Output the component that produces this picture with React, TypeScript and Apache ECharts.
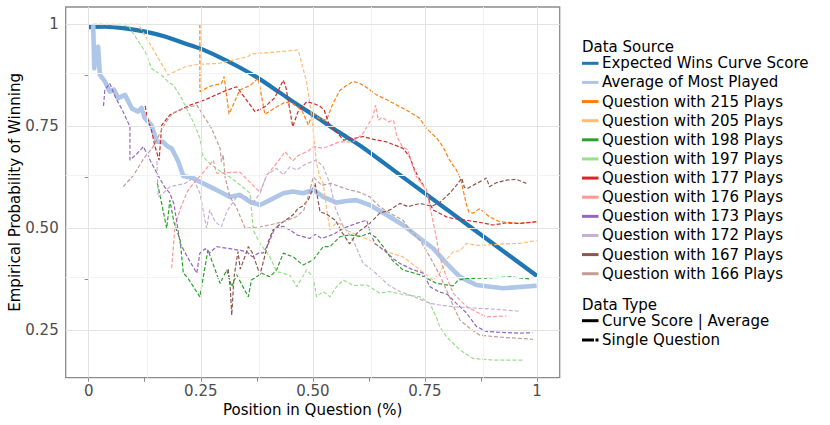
import React, { useEffect, useRef } from "react";
import * as echarts from "echarts";

const FONT = "DejaVu Sans";

const xTickValues = [0, 0.125, 0.25, 0.375, 0.5, 0.625, 0.75, 0.875, 1];
const xLabelValues = [0, 0.25, 0.5, 0.75, 1];
const yTickValues = [0.25, 0.375, 0.5, 0.625, 0.75, 0.875, 1];
const yLabelValues = [0.25, 0.5, 0.75, 1];
const majorX = [0, 0.25, 0.5, 0.75, 1];
const minorX = [0.125, 0.375, 0.625, 0.875];
const majorY = [0.25, 0.5, 0.75, 1];
const minorY = [0.375, 0.625, 0.875];

const expectedCurve = [
  [0, 0.993], [0.036, 0.994], [0.081, 0.99], [0.126, 0.982], [0.17, 0.97],
  [0.215, 0.953], [0.248, 0.941], [0.289, 0.921], [0.334, 0.896], [0.378, 0.868],
  [0.423, 0.835], [0.467, 0.802], [0.512, 0.77], [0.556, 0.737], [0.609, 0.7],
  [0.7, 0.626], [0.8, 0.545], [0.9, 0.464], [1.0, 0.383],
];

const averageMostPlayed = [
  [0.01, 0.998], [0.0125, 0.892], [0.016, 0.93], [0.021, 0.945], [0.025, 0.876],
  [0.036, 0.86], [0.047, 0.835], [0.056, 0.84], [0.066, 0.819], [0.081, 0.827],
  [0.096, 0.794], [0.11, 0.786], [0.118, 0.795], [0.125, 0.77], [0.14, 0.753],
  [0.152, 0.712], [0.165, 0.712], [0.177, 0.7], [0.185, 0.696], [0.2, 0.663],
  [0.211, 0.628], [0.233, 0.623], [0.255, 0.61], [0.285, 0.594], [0.315, 0.577],
  [0.337, 0.582], [0.36, 0.565], [0.382, 0.557], [0.404, 0.569], [0.434, 0.586],
  [0.456, 0.59], [0.478, 0.586], [0.501, 0.594], [0.523, 0.577], [0.553, 0.563],
  [0.575, 0.567], [0.597, 0.569], [0.627, 0.557], [0.664, 0.533], [0.701, 0.508],
  [0.739, 0.475], [0.768, 0.451], [0.798, 0.414], [0.828, 0.381], [0.865, 0.361],
  [0.924, 0.353], [0.999, 0.359],
];

const q215 = [
  [0.248, 1.0], [0.248, 0.835], [0.27, 0.848], [0.296, 0.855], [0.302, 0.872],
  [0.313, 0.78], [0.337, 0.839], [0.36, 0.85], [0.378, 0.868], [0.393, 0.779],
  [0.419, 0.798], [0.438, 0.809], [0.456, 0.805], [0.475, 0.79], [0.49, 0.753],
  [0.5, 0.785], [0.512, 0.77], [0.53, 0.765], [0.545, 0.806], [0.56, 0.838],
  [0.575, 0.85], [0.59, 0.86], [0.605, 0.855], [0.62, 0.845], [0.642, 0.827],
  [0.665, 0.815], [0.694, 0.798], [0.716, 0.785], [0.738, 0.77], [0.753, 0.745],
  [0.776, 0.721], [0.79, 0.7], [0.805, 0.667], [0.82, 0.643], [0.83, 0.62],
  [0.835, 0.594], [0.842, 0.56], [0.848, 0.54], [0.857, 0.537], [0.872, 0.548],
  [0.894, 0.528], [0.917, 0.516], [0.96, 0.512], [1.0, 0.516],
];

const q205 = [
  [0.01, 1.0], [0.111, 1.0], [0.177, 0.876], [0.215, 0.896], [0.244, 0.902],
  [0.289, 0.904], [0.356, 0.921], [0.362, 0.927], [0.467, 0.937], [0.478, 0.892],
  [0.486, 0.859], [0.497, 0.778], [0.504, 0.704], [0.508, 0.659], [0.516, 0.625],
  [0.523, 0.61], [0.531, 0.545], [0.538, 0.496], [0.549, 0.51], [0.56, 0.512],
  [0.575, 0.495], [0.59, 0.488], [0.627, 0.471], [0.664, 0.443], [0.701, 0.43],
  [0.739, 0.398], [0.768, 0.373], [0.783, 0.39], [0.798, 0.423], [0.813, 0.443],
  [0.828, 0.445], [0.843, 0.463], [0.865, 0.458], [0.887, 0.459], [0.93, 0.462],
  [0.961, 0.463], [0.999, 0.47],
];

const q198 = [
  [0.153, 0.61], [0.155, 0.602], [0.174, 0.5], [0.181, 0.569], [0.19, 0.515],
  [0.204, 0.471], [0.211, 0.39], [0.22, 0.38], [0.248, 0.332], [0.266, 0.447],
  [0.293, 0.365], [0.308, 0.398], [0.319, 0.357], [0.33, 0.386], [0.356, 0.332],
  [0.363, 0.373], [0.386, 0.39], [0.404, 0.381], [0.419, 0.398], [0.434, 0.439],
  [0.456, 0.43], [0.478, 0.41], [0.5, 0.422], [0.523, 0.455], [0.538, 0.455],
  [0.56, 0.479], [0.582, 0.484], [0.605, 0.48], [0.627, 0.488], [0.64, 0.478],
  [0.657, 0.455], [0.677, 0.422], [0.701, 0.398], [0.739, 0.386], [0.776, 0.365],
  [0.813, 0.359], [0.824, 0.373], [0.843, 0.377], [0.887, 0.378], [0.94, 0.381],
  [0.984, 0.376],
];

const q197 = [
  [0.01, 1.0], [0.088, 0.998], [0.099, 0.978], [0.126, 0.933], [0.14, 0.892],
  [0.166, 0.872], [0.177, 0.859], [0.189, 0.851], [0.207, 0.819], [0.218, 0.794],
  [0.233, 0.761], [0.248, 0.721], [0.255, 0.675], [0.27, 0.659], [0.293, 0.64],
  [0.315, 0.626], [0.36, 0.586], [0.367, 0.496], [0.382, 0.463], [0.404, 0.43],
  [0.419, 0.394], [0.434, 0.39], [0.449, 0.384], [0.464, 0.357], [0.486, 0.398],
  [0.501, 0.381], [0.508, 0.332], [0.523, 0.345], [0.538, 0.332], [0.553, 0.357],
  [0.568, 0.373], [0.59, 0.36], [0.62, 0.361], [0.649, 0.341], [0.67, 0.345],
  [0.7, 0.338], [0.739, 0.332], [0.761, 0.316], [0.776, 0.28], [0.783, 0.259],
  [0.798, 0.234], [0.828, 0.202], [0.857, 0.181], [0.902, 0.177], [0.969, 0.177],
];

const q177 = [
  [0.126, 0.8], [0.13, 0.775], [0.14, 0.74], [0.148, 0.7], [0.157, 0.667],
  [0.163, 0.753], [0.181, 0.778], [0.226, 0.802], [0.26, 0.815], [0.3, 0.835],
  [0.33, 0.847], [0.371, 0.786], [0.393, 0.798], [0.415, 0.82], [0.434, 0.863],
  [0.44, 0.845], [0.455, 0.749], [0.467, 0.786], [0.486, 0.81], [0.501, 0.806],
  [0.515, 0.8], [0.525, 0.79], [0.538, 0.749], [0.55, 0.74], [0.568, 0.716],
  [0.59, 0.72], [0.612, 0.725], [0.635, 0.718], [0.664, 0.712], [0.68, 0.705],
  [0.701, 0.696], [0.716, 0.675], [0.727, 0.643], [0.739, 0.618], [0.753, 0.594],
  [0.761, 0.561], [0.768, 0.545], [0.798, 0.528], [0.813, 0.524], [0.84, 0.52],
  [0.87, 0.515], [0.902, 0.508], [0.93, 0.513], [0.961, 0.512], [0.999, 0.516],
];

const q176 = [
  [0.185, 0.402], [0.19, 0.47], [0.192, 0.504], [0.205, 0.55], [0.22, 0.59],
  [0.233, 0.61], [0.25, 0.63], [0.265, 0.65], [0.278, 0.667], [0.285, 0.635],
  [0.337, 0.638], [0.382, 0.588], [0.397, 0.63], [0.419, 0.659], [0.438, 0.688],
  [0.455, 0.665], [0.467, 0.678], [0.49, 0.69], [0.501, 0.7], [0.523, 0.696],
  [0.56, 0.712], [0.59, 0.712], [0.612, 0.733], [0.634, 0.774], [0.64, 0.802],
  [0.646, 0.765], [0.655, 0.772], [0.668, 0.761], [0.68, 0.765], [0.687, 0.725],
  [0.7, 0.7], [0.712, 0.692], [0.72, 0.66], [0.731, 0.626], [0.742, 0.61],
  [0.753, 0.594], [0.761, 0.553], [0.772, 0.496], [0.783, 0.43], [0.798, 0.38],
  [0.813, 0.341], [0.828, 0.324], [0.843, 0.308], [0.865, 0.295], [0.887, 0.283],
  [0.932, 0.285],
];

const q173 = [
  [0.033, 0.8], [0.036, 0.839], [0.047, 0.855], [0.06, 0.82], [0.075, 0.79],
  [0.092, 0.749], [0.092, 0.667], [0.105, 0.68], [0.122, 0.7], [0.137, 0.667],
  [0.152, 0.635], [0.17, 0.6], [0.181, 0.586], [0.19, 0.56], [0.204, 0.463],
  [0.22, 0.43], [0.241, 0.39], [0.248, 0.439], [0.26, 0.45], [0.27, 0.44],
  [0.285, 0.455], [0.315, 0.45], [0.352, 0.443], [0.365, 0.43], [0.38, 0.44],
  [0.389, 0.439], [0.4, 0.46], [0.415, 0.5], [0.434, 0.505], [0.45, 0.495],
  [0.464, 0.484], [0.493, 0.475], [0.505, 0.485], [0.52, 0.475], [0.545, 0.485],
  [0.568, 0.5], [0.597, 0.512], [0.62, 0.52], [0.628, 0.49], [0.638, 0.463],
  [0.66, 0.445], [0.68, 0.425], [0.694, 0.414], [0.72, 0.4], [0.746, 0.39],
  [0.761, 0.357], [0.78, 0.345], [0.8, 0.338], [0.82, 0.316], [0.843, 0.292],
  [0.865, 0.259], [0.887, 0.247], [0.92, 0.245], [0.961, 0.243], [0.99, 0.244],
];

const q172 = [
  [0.152, 0.665], [0.155, 0.577], [0.165, 0.585], [0.181, 0.602], [0.215, 0.61],
  [0.233, 0.623], [0.248, 0.586], [0.263, 0.5], [0.27, 0.545], [0.282, 0.516],
  [0.296, 0.504], [0.308, 0.541], [0.33, 0.577], [0.352, 0.577], [0.365, 0.56],
  [0.382, 0.586], [0.397, 0.631], [0.419, 0.647], [0.434, 0.631], [0.449, 0.651],
  [0.464, 0.643], [0.486, 0.659], [0.508, 0.667], [0.523, 0.651], [0.538, 0.61],
  [0.55, 0.55], [0.565, 0.51], [0.59, 0.471], [0.612, 0.414], [0.63, 0.4],
  [0.649, 0.381], [0.67, 0.36], [0.694, 0.345], [0.72, 0.335], [0.761, 0.316],
  [0.783, 0.312], [0.813, 0.308], [0.85, 0.305], [0.887, 0.303], [0.961, 0.297],
];

const q167 = [
  [0.311, 0.4], [0.316, 0.35], [0.319, 0.287], [0.324, 0.38], [0.333, 0.443],
  [0.338, 0.4], [0.345, 0.42], [0.356, 0.455], [0.365, 0.44], [0.382, 0.386],
  [0.39, 0.42], [0.4, 0.465], [0.411, 0.496], [0.434, 0.516], [0.456, 0.533],
  [0.467, 0.549], [0.478, 0.555], [0.49, 0.57], [0.505, 0.61], [0.516, 0.54],
  [0.53, 0.535], [0.55, 0.52], [0.565, 0.49], [0.582, 0.462], [0.6, 0.49],
  [0.627, 0.512], [0.649, 0.537], [0.672, 0.545], [0.694, 0.561], [0.712, 0.553],
  [0.739, 0.561], [0.765, 0.554], [0.783, 0.563], [0.805, 0.586], [0.82, 0.605],
  [0.832, 0.623], [0.838, 0.6], [0.846, 0.598], [0.86, 0.607], [0.874, 0.615],
  [0.887, 0.623], [0.894, 0.602], [0.91, 0.612], [0.932, 0.618], [0.954, 0.62],
  [0.976, 0.61],
];

const q166 = [
  [0.077, 0.602], [0.1, 0.63], [0.122, 0.67], [0.144, 0.7], [0.166, 0.749],
  [0.181, 0.774], [0.192, 0.785], [0.21, 0.793], [0.241, 0.802], [0.274, 0.745],
  [0.293, 0.696], [0.296, 0.663], [0.3, 0.68], [0.304, 0.626], [0.315, 0.577],
  [0.33, 0.55], [0.349, 0.5], [0.38, 0.503], [0.41, 0.51], [0.434, 0.516],
  [0.464, 0.529], [0.48, 0.545], [0.49, 0.58], [0.501, 0.626], [0.52, 0.605],
  [0.54, 0.61], [0.56, 0.602], [0.582, 0.594], [0.605, 0.588], [0.627, 0.577],
  [0.649, 0.553], [0.675, 0.535], [0.701, 0.52], [0.716, 0.496], [0.739, 0.471],
  [0.761, 0.43], [0.783, 0.385], [0.798, 0.349], [0.813, 0.31], [0.828, 0.275],
  [0.85, 0.255], [0.872, 0.238], [0.92, 0.233], [0.991, 0.228],
];

const sourceNames = [
  "Expected Wins Curve Score",
  "Average of Most Played",
  "Question with 215 Plays",
  "Question with 205 Plays",
  "Question with 198 Plays",
  "Question with 197 Plays",
  "Question with 177 Plays",
  "Question with 176 Plays",
  "Question with 173 Plays",
  "Question with 172 Plays",
  "Question with 167 Plays",
  "Question with 166 Plays",
];
const sourceColors = [
  "#1f77b4", "#aec7e8", "#ff7f0e", "#ffbb78", "#2ca02c", "#98df8a",
  "#d62728", "#ff9896", "#9467bd", "#c5b0d5", "#8c564b", "#c49c94",
];
const questionData = [q215, q205, q198, q197, q177, q176, q173, q172, q167, q166];
const typeNames = ["Curve Score | Average", "Single Question"];

const fmt = (v: number) => (v === 0 ? "0" : v === 1 ? "1" : v.toFixed(2));

export default function App() {
  const ref = useRef<HTMLDivElement>(null);
  useEffect(() => {
    if (!ref.current) return;
    const chart = echarts.init(ref.current, undefined, { renderer: "svg" });

    const major = { color: "#e3e3e3", width: 1, type: "solid" };
    const minor = { color: "#f3f3f3", width: 1, type: "solid" };
    const gridLines = [
      ...majorX.map((v) => ({ xAxis: v, lineStyle: major })),
      ...minorX.map((v) => ({ xAxis: v, lineStyle: minor })),
      ...majorY.map((v) => ({ yAxis: v, lineStyle: major })),
      ...minorY.map((v) => ({ yAxis: v, lineStyle: minor })),
    ];

    const series: any[] = [
      {
        type: "line",
        name: "grid",
        data: [[0, 0.5]],
        showSymbol: false,
        lineStyle: { opacity: 0 },
        silent: true,
        z: 0,
        markLine: {
          silent: true,
          symbol: ["none", "none"],
          label: { show: false },
          lineStyle: { type: "solid" },
          animation: false,
          data: gridLines,
        },
      },
      {
        type: "line",
        name: sourceNames[0],
        data: expectedCurve,
        smooth: 0.3,
        showSymbol: false,
        lineStyle: { color: sourceColors[0], width: 4.2 },
        z: 2,
      },
      {
        type: "line",
        name: sourceNames[1],
        data: averageMostPlayed,
        showSymbol: false,
        lineStyle: { color: sourceColors[1], width: 4.6, join: "round" },
        z: 3,
      },
      ...questionData.map((d, i) => ({
        type: "line",
        name: sourceNames[i + 2],
        data: d,
        showSymbol: false,
        lineStyle: { color: sourceColors[i + 2], width: 1.2, type: [4, 2] },
        z: 4,
      })),
    ];

    const legendX = 582;
    const textX = 602;
    const graphic: any[] = [
      {
        type: "text",
        x: 312.7,
        y: 410,
        style: { text: "Position in Question (%)", fontSize: 15, fontFamily: FONT, fill: "#000", align: "center", verticalAlign: "middle" },
      },
      {
        type: "text",
        x: 15,
        y: 192.4,
        rotation: Math.PI / 2,
        style: { text: "Empirical Probability of Winning", fontSize: 15, fontFamily: FONT, fill: "#000", align: "center", verticalAlign: "middle" },
      },
      {
        type: "text",
        x: legendX,
        y: 46.7,
        style: { text: "Data Source", fontSize: 15, fontFamily: FONT, fill: "#000", align: "left", verticalAlign: "middle" },
      },
    ];
    sourceNames.forEach((name, i) => {
      const y = 63.3 + i * 19.13;
      graphic.push({
        type: "line",
        shape: { x1: legendX, y1: y, x2: 598.5, y2: y },
        style: { stroke: sourceColors[i], lineWidth: 3 },
      });
      graphic.push({
        type: "text",
        x: textX,
        y,
        style: { text: name, fontSize: 15, fontFamily: FONT, fill: "#000", align: "left", verticalAlign: "middle" },
      });
    });
    graphic.push({
      type: "text",
      x: legendX,
      y: 305,
      style: { text: "Data Type", fontSize: 15, fontFamily: FONT, fill: "#000", align: "left", verticalAlign: "middle" },
    });
    typeNames.forEach((name, i) => {
      const y = 320.7 + i * 19.3;
      graphic.push({
        type: "line",
        shape: { x1: legendX, y1: y, x2: 598.5, y2: y },
        style: { stroke: "#000", lineWidth: 3, lineDash: i === 0 ? null : [12, 1.5] },
      });
      graphic.push({
        type: "text",
        x: textX,
        y,
        style: { text: name, fontSize: 15, fontFamily: FONT, fill: "#000", align: "left", verticalAlign: "middle" },
      });
    });

    chart.setOption({
      animation: false,
      backgroundColor: "#fff",
      grid: {
        left: 65.7,
        top: 7,
        right: 830 - 559.7,
        bottom: 425 - 377.7,
        show: true,
        borderColor: "#8c8c8c",
        borderWidth: 1.3,
        backgroundColor: "#fff",
        containLabel: false,
      },
      xAxis: {
        type: "value",
        min: -0.0513,
        max: 1.0505,
        axisLine: { show: false },
        splitLine: { show: false },
        axisTick: { show: true, length: 4, customValues: xTickValues, lineStyle: { color: "#8c8c8c", width: 1 } },
        axisLabel: {
          customValues: xLabelValues,
          formatter: (v: number) => fmt(v),
          fontSize: 15,
          fontFamily: FONT,
          color: "#4d4d4d",
          margin: 6,
        },
      },
      yAxis: {
        type: "value",
        min: 0.1338,
        max: 1.0424,
        axisLine: { show: false },
        splitLine: { show: false },
        axisTick: { show: true, length: 4, customValues: yTickValues, lineStyle: { color: "#8c8c8c", width: 1 } },
        axisLabel: {
          customValues: yLabelValues,
          formatter: (v: number) => fmt(v),
          fontSize: 15,
          fontFamily: FONT,
          color: "#4d4d4d",
          margin: 7,
        },
      },
      series,
      graphic,
    });
    return () => chart.dispose();
  }, []);

  return (
    <div
      ref={ref}
      style={{ position: "fixed", left: 0, top: 0, width: 830, height: 425, background: "#fff" }}
    />
  );
}
